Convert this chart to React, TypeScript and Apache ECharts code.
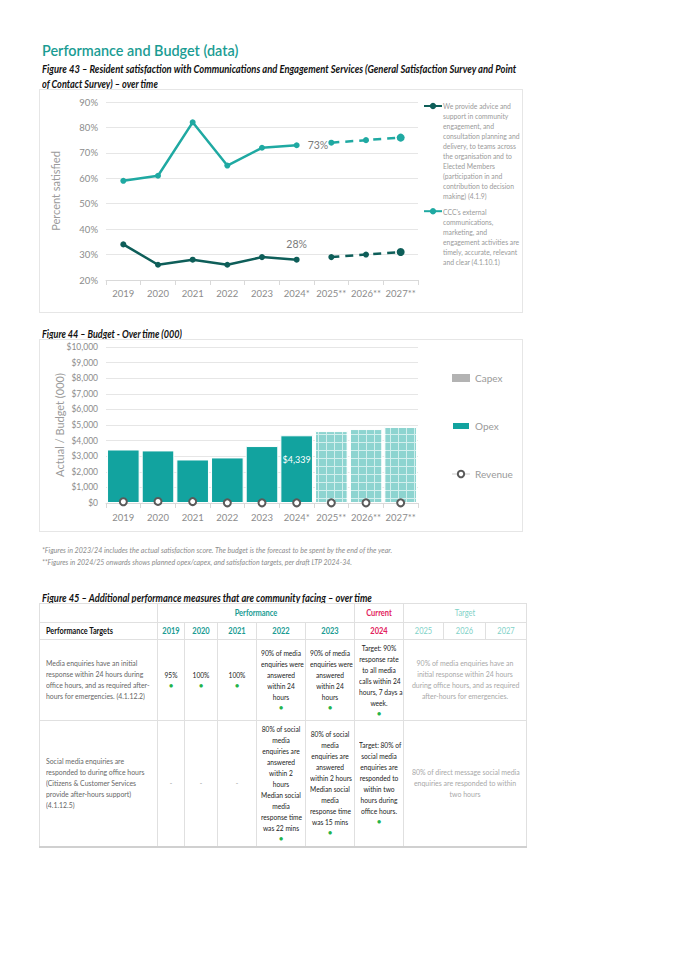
import React, { useEffect, useLayoutEffect, useRef, useState } from 'react';
import * as echarts from 'echarts';

// ---------- DATA ----------
const years = ['2019', '2020', '2021', '2022', '2023', '2024*', '2025**', '2026**', '2027**'];
const adviceActual = [34, 26, 28, 26, 29, 28, null, null, null];
const adviceTarget = [null, null, null, null, null, null, 29, 30, 31];
const externalActual = [59, 61, 82, 65, 72, 73, null, null, null];
const externalTarget = [null, null, null, null, null, null, 74, 75, 76];

const adviceName = 'We provide advice and support in community engagement, and consultation planning and delivery, to teams across the organisation and to Elected Members (participation in and contribution to decision making) (4.1.9)';
const externalName = "CCC's external communications, marketing, and engagement activities are timely, accurate, relevant and clear (4.1.10.1)";
const adviceLegendLines = ['We provide advice and', 'support in community', 'engagement, and', 'consultation planning and', 'delivery, to teams across', 'the organisation and to', 'Elected Members', '(participation in and', 'contribution to decision', 'making) (4.1.9)'];
const externalLegendLines = ["CCC's external", 'communications,', 'marketing, and', 'engagement activities are', 'timely, accurate, relevant', 'and clear (4.1.10.1)'];

const opex = [3430, 3370, 2790, 2920, 3650, 4339, 4610, 4740, 4870];
const capex = [0, 0, 0, 0, 0, 0, 0, 0, 0];
const revenue = [80, 100, 90, 10, 10, 10, 10, 10, 10];

const tableYears = ['2019', '2020', '2021', '2022', '2023', '2024', '2025', '2026', '2027'];
const m1Desc = ['Media enquiries have an initial', 'response within 24 hours during', 'office hours, and as required after-', 'hours for emergencies. (4.1.12.2)'];
const m1Results = [
  ['95%'], ['100%'], ['100%'],
  ['90% of media', 'enquiries were', 'answered', 'within 24', 'hours'],
  ['90% of media', 'enquiries were', 'answered', 'within 24', 'hours'],
  ['Target: 90%', 'response rate', 'to all media', 'calls within 24', 'hours, 7 days a', 'week.'],
];
const m1Dots = [true, true, true, true, true, true];
const m1Target = ['90% of media enquiries have an', 'initial response within 24 hours', 'during office hours, and as required', 'after-hours for emergencies.'];
const m2Desc = ['Social media enquiries are', 'responded to during office hours', '(Citizens & Customer Services', 'provide after-hours support)', '(4.1.12.5)'];
const m2Results = [
  ['-'], ['-'], ['-'],
  ['80% of social', 'media', 'enquiries are', 'answered', 'within 2', 'hours', 'Median social', 'media', 'response time', 'was 22 mins'],
  ['80% of social', 'media', 'enquiries are', 'answered', 'within 2 hours', 'Median social', 'media', 'response time', 'was 15 mins'],
  ['Target: 80% of', 'social media', 'enquiries are', 'responded to', 'within two', 'hours during', 'office hours.'],
];
const m2Dots = [false, false, false, true, true, true];
const m2Target = ['80% of direct message social media', 'enquiries are responded to within', 'two hours'];

// ---------- STYLE CONSTANTS ----------
const FONT = 'Lato, "Open Sans", sans-serif';
const TEAL = '#1a9c93';
const DARK = '#0e5e59';
const LINE_TEAL = '#1fa9a2';
const BAR = '#12a39f';
const RED = '#e2215c';
const LIGHT_TEAL = '#7fd2c8';
const GREEN = '#25b34b';
const AXIS_GRAY = '#8c8c8c';

function Fit({ w, style, children }: { w: number; style?: React.CSSProperties; children: React.ReactNode }) {
  const ref = useRef<HTMLSpanElement>(null);
  const [s, setS] = useState(1);
  useLayoutEffect(() => {
    const m = () => {
      if (ref.current) {
        const nw = ref.current.scrollWidth;
        if (nw) setS(w / nw);
      }
    };
    m();
    (document as any).fonts?.ready?.then(m);
  }, [w]);
  return (
    <span
      ref={ref}
      style={{ display: 'inline-block', whiteSpace: 'nowrap', transform: `scaleX(${s})`, transformOrigin: 'left center', ...style }}
    >
      {children}
    </span>
  );
}

function Chart({ option, style }: { option: any; style: React.CSSProperties }) {
  const ref = useRef<HTMLDivElement>(null);
  useEffect(() => {
    const c = echarts.init(ref.current!, undefined, { renderer: 'svg' });
    c.setOption(option);
    return () => c.dispose();
  }, []);
  return <div ref={ref} style={style} />;
}

const xAxisBase = {
  type: 'category',
  data: years,
  boundaryGap: true,
  axisLine: { lineStyle: { color: '#d9d9d9' } },
  axisTick: { show: true, length: 5, lineStyle: { color: '#d9d9d9' } },
  axisLabel: { color: AXIS_GRAY, fontSize: 9.5, margin: 8, interval: 0, fontFamily: FONT },
};

const satOption = {
  animation: false,
  textStyle: { fontFamily: FONT },
  grid: { left: 67, right: 105, top: 13, bottom: 33 },
  xAxis: xAxisBase,
  yAxis: {
    type: 'value',
    min: 20,
    max: 90,
    interval: 10,
    axisLabel: { formatter: '{value}%', color: AXIS_GRAY, fontSize: 9.5, margin: 8, fontFamily: FONT },
    splitLine: { lineStyle: { color: '#e6e6e6' } },
    name: 'Percent satisfied',
    nameLocation: 'middle',
    nameGap: 45,
    nameMoveOverlap: false,
    nameTextStyle: { color: '#9a9a9a', fontSize: 11, fontFamily: FONT },
  },
  legend: {
    orient: 'vertical',
    left: 384,
    top: 13,
    padding: 0,
    itemWidth: 18,
    itemHeight: 8,
    itemGap: 98,
    selectedMode: false,
    formatter: () => '',
    data: [adviceName, externalName],
  },
  graphic: [
    {
      type: 'text',
      x: 404,
      y: 12,
      scaleX: 0.8,
      style: { text: adviceLegendLines.join('\n'), fill: '#9a9a9a', fontSize: 8.5, lineHeight: 10, fontFamily: FONT, verticalAlign: 'top' },
    },
    {
      type: 'text',
      x: 404,
      y: 118,
      scaleX: 0.8,
      style: { text: externalLegendLines.join('\n'), fill: '#9a9a9a', fontSize: 8.5, lineHeight: 10, fontFamily: FONT, verticalAlign: 'top' },
    },
  ],
  series: [
    {
      name: adviceName,
      type: 'line',
      data: adviceActual.map((v, i) =>
        i === 5 ? { value: v, label: { show: true, position: 'top', distance: 7, formatter: '{c}%', color: '#7a7a7a', fontSize: 10.5 } } : v
      ),
      color: DARK,
      lineStyle: { width: 2.5 },
      symbol: 'circle',
      symbolSize: 6,
      z: 3,
    },
    {
      name: 'advice-target',
      type: 'line',
      data: adviceTarget.map((v, i) => (i === 8 ? { value: v, symbolSize: 8 } : v)),
      color: DARK,
      lineStyle: { width: 2.5, type: [8, 6] },
      symbol: 'circle',
      symbolSize: 6,
      z: 3,
    },
    {
      name: externalName,
      type: 'line',
      data: externalActual.map((v, i) =>
        i === 5 ? { value: v, label: { show: true, position: 'right', distance: 8, formatter: '{c}%', color: '#7a7a7a', fontSize: 10.5 } } : v
      ),
      color: LINE_TEAL,
      lineStyle: { width: 2.5 },
      symbol: 'circle',
      symbolSize: 6,
      z: 3,
    },
    {
      name: 'external-target',
      type: 'line',
      data: externalTarget.map((v, i) => (i === 8 ? { value: v, symbolSize: 8 } : v)),
      color: LINE_TEAL,
      lineStyle: { width: 2.5, type: [8, 6] },
      symbol: 'circle',
      symbolSize: 6,
      z: 3,
    },
  ],
};

const forecastStyle = {
  color: '#d2efed',
  borderColor: '#fff',
  borderWidth: 1,
  decal: { symbol: 'rect', symbolSize: 1, dashArrayX: [7, 1], dashArrayY: [7, 1], color: '#8dd4d0', rotation: 0 },
};

const budgetOption = {
  animation: false,
  textStyle: { fontFamily: FONT },
  grid: { left: 67, right: 105, top: 8, bottom: 29 },
  xAxis: { ...xAxisBase, axisLabel: { ...xAxisBase.axisLabel, margin: 9 } },
  yAxis: {
    type: 'value',
    min: 0,
    max: 10000,
    interval: 1000,
    axisLabel: {
      formatter: (v: number) => '$' + v.toLocaleString('en-US'),
      color: AXIS_GRAY,
      fontSize: 8.5,
      margin: 8,
      fontFamily: FONT,
    },
    splitLine: { lineStyle: { color: '#e6e6e6' } },
    name: 'Actual / Budget (000)',
    nameLocation: 'middle',
    nameGap: 41,
    nameMoveOverlap: false,
    nameTextStyle: { color: '#9a9a9a', fontSize: 11, fontFamily: FONT },
  },
  legend: {
    orient: 'vertical',
    left: 407,
    top: 29,
    itemWidth: 18,
    itemHeight: 8,
    itemGap: 38,
    selectedMode: false,
    textStyle: { color: '#9a9a9a', fontSize: 10, fontFamily: FONT },
    data: [
      { name: 'Capex', icon: 'rect' },
      { name: 'Opex', icon: 'rect' },
      { name: 'Revenue', lineStyle: { opacity: 1, color: '#cccccc', width: 1 } },
    ],
  },
  series: [
    {
      name: 'Opex',
      type: 'bar',
      stack: 'budget',
      barCategoryGap: '6%',
      itemStyle: { color: BAR, borderColor: '#fff', borderWidth: 1 },
      data: opex.map((v, i) => {
        if (years[i].endsWith('**')) return { value: v, itemStyle: forecastStyle };
        if (i === 5)
          return {
            value: v,
            label: {
              show: true,
              position: 'insideTop',
              distance: 20,
              formatter: (p: any) => '$' + p.value.toLocaleString('en-US'),
              color: '#fff',
              fontSize: 9,
            },
          };
        return v;
      }),
    },
    {
      name: 'Capex',
      type: 'bar',
      stack: 'budget',
      barCategoryGap: '6%',
      itemStyle: { color: '#b3b3b3', borderWidth: 0 },
      data: capex,
    },
    {
      name: 'Revenue',
      type: 'line',
      data: revenue,
      symbol: 'emptyCircle',
      symbolSize: 7,
      itemStyle: { color: '#5a5a5a', borderWidth: 1.5 },
      lineStyle: { opacity: 0, color: '#cccccc', width: 1 },
      z: 5,
    },
  ],
};

// ---------- TABLE ----------
const colWidths = [118, 27, 33, 39, 49, 49, 49, 40, 42, 41];
const LH = 11;
const K = 0.83;

function Lines({ lines, color, align = 'center', dot = false, k = K, size = 8 }: any) {
  return (
    <div style={{ color, textAlign: align }}>
      {lines.map((t: string, i: number) => (
        <div
          key={i}
          style={{
            whiteSpace: 'nowrap',
            height: LH,
            lineHeight: LH + 'px',
            fontSize: size,
            transform: `scaleX(${k})`,
            transformOrigin: align === 'left' ? 'left center' : 'center center',
          }}
        >
          {t}
        </div>
      ))}
      {dot && <div style={{ color: GREEN, fontSize: 9, height: 9, lineHeight: '9px' }}>•</div>}
    </div>
  );
}

const border = '1px solid #e0e0e0';
const tdBase: React.CSSProperties = { border, padding: 0, verticalAlign: 'middle', textAlign: 'center' };

function Table() {
  const hdr = (c: string, bold = true): React.CSSProperties => ({
    ...tdBase,
    color: c,
    fontWeight: bold ? 700 : 400,
    fontSize: 8.5,
  });
  const yearColor = (i: number) => (i < 5 ? TEAL : i === 5 ? RED : LIGHT_TEAL);
  return (
    <table
      style={{
        position: 'absolute',
        left: 39,
        top: 603,
        width: 487,
        borderCollapse: 'collapse',
        tableLayout: 'fixed',
        fontFamily: FONT,
        borderBottom: '2px solid #d0d0d0',
      }}
    >
      <colgroup>
        {colWidths.map((w, i) => (
          <col key={i} style={{ width: w }} />
        ))}
      </colgroup>
      <tbody>
        <tr style={{ height: 19 }}>
          <td style={tdBase}></td>
          <td colSpan={5} style={hdr(TEAL)}>
            <Lines lines={['Performance']} size={8.5} k={0.88} />
          </td>
          <td style={hdr(RED)}>
            <Lines lines={['Current']} size={8.5} k={0.88} />
          </td>
          <td colSpan={3} style={hdr(LIGHT_TEAL, false)}>
            <Lines lines={['Target']} size={8.5} k={0.88} />
          </td>
        </tr>
        <tr style={{ height: 17 }}>
          <td style={{ ...hdr('#111'), textAlign: 'left', paddingLeft: 6 }}>
            <Lines lines={['Performance Targets']} align="left" size={8.5} k={0.86} />
          </td>
          {tableYears.map((y, i) => (
            <td key={y} style={hdr(yearColor(i), i < 6)}>
              <Lines lines={[y]} size={8.5} k={0.88} />
            </td>
          ))}
        </tr>
        <tr style={{ height: 81 }}>
          <td style={{ ...tdBase, textAlign: 'left', paddingLeft: 6 }}>
            <Lines lines={m1Desc} color="#666" align="left" k={0.86} />
          </td>
          {m1Results.map((r, i) => (
            <td key={i} style={tdBase}>
              <Lines lines={r} color="#222" dot={m1Dots[i]} />
            </td>
          ))}
          <td colSpan={3} style={tdBase}>
            <Lines lines={m1Target} color="#a8a8a8" k={0.87} />
          </td>
        </tr>
        <tr style={{ height: 126 }}>
          <td style={{ ...tdBase, textAlign: 'left', paddingLeft: 6 }}>
            <Lines lines={m2Desc} color="#666" align="left" k={0.86} />
          </td>
          {m2Results.map((r, i) => (
            <td key={i} style={tdBase}>
              <Lines lines={r} color={r[0] === '-' ? '#999' : '#222'} dot={m2Dots[i]} />
            </td>
          ))}
          <td colSpan={3} style={tdBase}>
            <Lines lines={m2Target} color="#a8a8a8" k={0.87} />
          </td>
        </tr>
      </tbody>
    </table>
  );
}

function Text({ x, y, w, size, lh, style, children }: any) {
  return (
    <div style={{ position: 'absolute', left: x, top: y - lh / 2, height: lh, lineHeight: lh + 'px', fontSize: size, whiteSpace: 'nowrap', ...style }}>
      <Fit w={w}>{children}</Fit>
    </div>
  );
}

export default function App() {
  const cap: React.CSSProperties = { fontWeight: 700, fontStyle: 'italic', color: '#111' };
  const foot: React.CSSProperties = { fontStyle: 'italic', color: '#8c8c8c' };
  return (
    <div style={{ position: 'absolute', left: 0, top: 0, width: 675, height: 955, background: '#fff', fontFamily: FONT }}>
      <Text x={42} y={50} w={196} size={15.5} lh={20} style={{ color: TEAL, fontWeight: 600 }}>
        Performance and Budget (data)
      </Text>
      <Text x={42} y={68} w={474} size={12} lh={15} style={cap}>
        Figure 43  – Resident satisfaction with Communications and Engagement Services (General Satisfaction Survey and Point
      </Text>
      <Text x={42} y={83} w={116} size={12} lh={15} style={cap}>
        of Contact Survey) – over time
      </Text>

      <div style={{ position: 'absolute', left: 39, top: 89, width: 484, height: 224, boxSizing: 'border-box', border: '1px solid #e6e6e6' }} />
      <Chart option={satOption} style={{ position: 'absolute', left: 39, top: 89, width: 484, height: 224 }} />

      <Text x={42} y={333} w={140} size={12} lh={15} style={cap}>
        Figure 44  – Budget - Over time (000)
      </Text>
      <div style={{ position: 'absolute', left: 39, top: 339, width: 484, height: 193, boxSizing: 'border-box', border: '1px solid #e6e6e6' }} />
      <Chart option={budgetOption} style={{ position: 'absolute', left: 39, top: 339, width: 484, height: 193 }} />

      <Text x={42} y={550} w={350} size={8.5} lh={12} style={foot}>
        *Figures in 2023/24 includes the actual satisfaction score. The budget is the forecast to be spent by the end of the year.
      </Text>
      <Text x={42} y={562} w={310} size={8.5} lh={12} style={foot}>
        **Figures in 2024/25 onwards shows planned opex/capex, and satisfaction targets, per draft LTP 2024-34.
      </Text>

      <Text x={42} y={597} w={330} size={12} lh={15} style={cap}>
        Figure 45  – Additional performance measures that are community facing – over time
      </Text>
      <Table />
    </div>
  );
}
